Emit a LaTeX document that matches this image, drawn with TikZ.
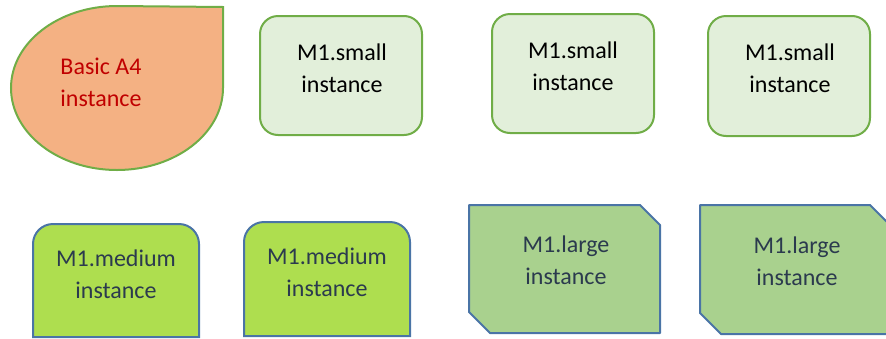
\documentclass[tikz,border=0pt]{standalone}
\usepackage{fontspec}
\setmainfont{Carlito}
\definecolor{smallfill}{HTML}{E2EFDA}
\definecolor{smallline}{HTML}{70AD47}
\definecolor{medfill}{HTML}{AEDE4F}
\definecolor{bluline}{HTML}{4A74A6}
\definecolor{largefill}{HTML}{A9D18E}
\definecolor{dropfill}{HTML}{F4B183}
\definecolor{redtext}{HTML}{C00000}
\definecolor{darktext}{HTML}{2B3A4E}
\begin{document}
\begin{tikzpicture}[x=1pt,y=-1pt,
  lbl/.style={align=center,font=\fontsize{24}{32}\selectfont,inner sep=0pt},
  smallbox/.style={draw=smallline,fill=smallfill,line width=2pt,rounded corners=18pt},
  medbox/.style={draw=bluline,fill=medfill,line width=2pt},
  largebox/.style={draw=bluline,fill=largefill,line width=2pt,line join=round}]
\useasboundingbox (0,0) rectangle (886,338);
\clip (0,0) rectangle (886,338);
% teardrop
\draw[draw=smallline,fill=dropfill,line width=2pt]
  (223,7) -- (223,88) arc[start angle=0,end angle=90,x radius=106,y radius=82]
  arc[start angle=90,end angle=180,x radius=106,y radius=82]
  arc[start angle=180,end angle=270,x radius=106,y radius=82] -- cycle;
\node[lbl,text=redtext] (basic) at (101,82) {Basic A4\\instance};
% small boxes
\draw[smallbox] (260,16) rectangle (422,135);
\draw[smallbox] (492,14) rectangle (654,133);
\draw[smallbox] (708,16) rectangle (870,136);
\node[lbl] (s1) at (342,68) {M1.small\\instance};
\node[lbl] (s2) at (573,66) {M1.small\\instance};
\node[lbl] (s3) at (790,68) {M1.small\\instance};
% medium boxes
\draw[medbox] (33,337) [rounded corners=20pt] -- (33,224) -- (199,224) [sharp corners] -- (199,337) -- cycle;
\draw[medbox] (244,336) [rounded corners=20pt] -- (244,222) -- (410,222) [sharp corners] -- (410,336) -- cycle;
\node[lbl,text=darktext] (m1) at (116,274) {M1.medium\\instance};
\node[lbl,text=darktext] (m2) at (327,272) {M1.medium\\instance};
% large boxes
\draw[largebox] (469,205) -- (640,205) -- (660,225) -- (660,333) -- (490,333) -- (469,312) -- cycle;
\draw[largebox] (700,205) -- (870,205) -- (892,227) -- (892,334) -- (721,334) -- (700,313) -- cycle;
\node[lbl,text=darktext] (l1) at (566,260) {M1.large\\instance};
\node[lbl,text=darktext] (l2) at (797,261) {M1.large\\instance};
\end{tikzpicture}
\end{document}
